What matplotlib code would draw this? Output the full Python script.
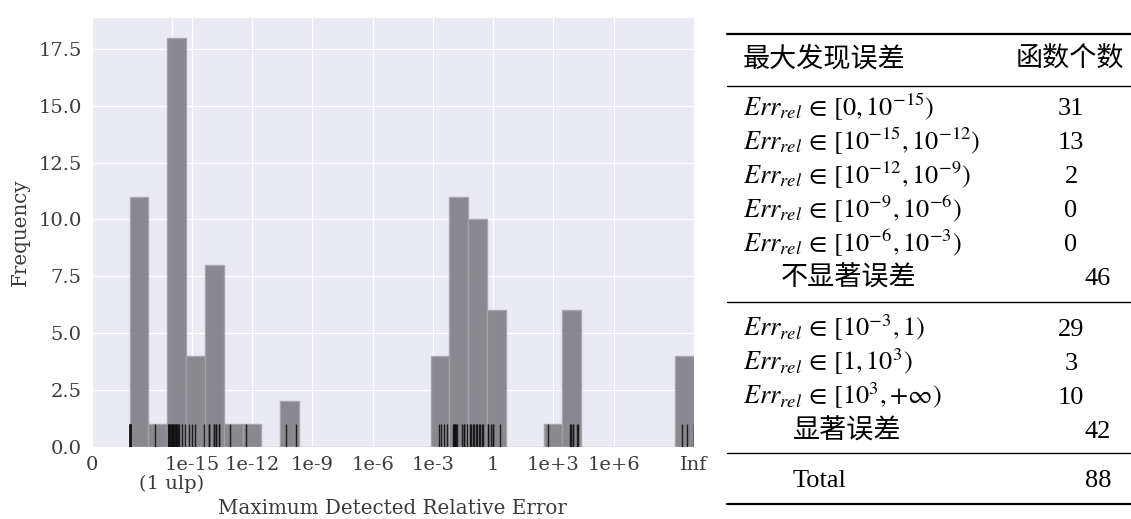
import numpy as np
import matplotlib
matplotlib.use("Agg")
import matplotlib.pyplot as plt
import seaborn as sns
from matplotlib.lines import Line2D

# ---------------- data ----------------
# log10 of the maximum detected relative error per function
# (0 error shown at -20 on the axis, Inf shown at 10)
log_err_insignificant = [
    -18.1, -18.1, -18.1, -18.1, -18.1, -18.1, -18.1, -18.1, -18.1, -18.1, -18.1,
    -16.82,
    -16.18, -16.15, -16.12, -16.08, -16.05, -16.0, -15.98, -15.95, -15.92,
    -15.88, -15.85, -15.8, -15.78, -15.74, -15.7, -15.65, -15.5, -15.33,
    -15.16, -15.0, -14.86, -14.42,
    -14.17, -14.17, -13.92, -13.92, -13.78, -13.78, -13.67, -13.67,
    -13.12, -12.29, -10.33, -9.84,
]
log_err_significant = [
    -2.71, -2.59, -2.45, -2.32,
    -2.0, -1.97, -1.94, -1.91, -1.88, -1.85, -1.82, -1.57, -1.44, -1.44, -1.3,
    -1.16, -1.08, -1.0, -0.93, -0.86, -0.79, -0.72, -0.65, -0.58, -0.5,
    -0.25, -0.25, -0.1, -0.03, 0.0, 0.33,
    2.71,
    3.82, 3.9, 3.99, 3.99, 4.16, 4.24,
    9.4, 9.65, 10.0, 10.0,
]
n_bins = 30

tick_pos = [-20, -16, -15, -12, -9, -6, -3, 0, 3, 6, 10]
tick_labels = ["0", "", "1e-15", "1e-12", "1e-9", "1e-6", "1e-3",
               "1", "1e+3", "1e+6", "Inf"]
ulp_pos = -16
ulp_label = "(1 ulp)"

table_header = ["最大发现误差", "函数个数"]
group1_labels = [r"$Err_{rel} \,\in\, [0, 10^{-15})$",
                 r"$Err_{rel} \,\in\, [10^{-15}, 10^{-12})$",
                 r"$Err_{rel} \,\in\, [10^{-12}, 10^{-9})$",
                 r"$Err_{rel} \,\in\, [10^{-9}, 10^{-6})$",
                 r"$Err_{rel} \,\in\, [10^{-6}, 10^{-3})$"]
group1_counts = [31, 13, 2, 0, 0]
group1_total_label = "不显著误差"
group1_total = 46
group2_labels = [r"$Err_{rel} \,\in\, [10^{-3}, 1)$",
                 r"$Err_{rel} \,\in\, [1, 10^{3})$",
                 r"$Err_{rel} \,\in\, [10^{3}, {+}\infty)$"]
group2_counts = [29, 3, 10]
group2_total_label = "显著误差"
group2_total = 42
grand_total_label = "Total"
grand_total = 88

# ---------------- style ----------------
sns.set_style("darkgrid")
plt.rcParams["font.family"] = ["DejaVu Serif"]
plt.rcParams["mathtext.fontset"] = "stix"

W, H = 1131, 519
fig = plt.figure(figsize=(W / 100, H / 100), dpi=100)
ax = fig.add_axes([91.5 / W, 72.4 / H, (694 - 91.5) / W, (446.6 - 17.3) / H])

values = np.array(log_err_insignificant + log_err_significant)
ax.hist(values, bins=n_bins, color="#7d7d83", alpha=0.9,
        edgecolor="#a3a3a8", linewidth=1.0, zorder=2)
sns.rugplot(x=values, ax=ax, height=0.053, color="#111111", lw=1.0,
            alpha=0.9, expand_margins=False, zorder=3)

tick_col = "#3b3b3b"
ax.set_xlim(-20, 10)
ax.set_ylim(0, 18.9)
ax.set_yticks(np.arange(0, 17.6, 2.5))
ax.set_yticklabels([f"{v:.1f}" for v in np.arange(0, 17.6, 2.5)])
ax.set_xticks(tick_pos)
ax.set_xticklabels(tick_labels)
ax.tick_params(axis="both", labelsize=14, colors=tick_col, length=0)
ax.tick_params(axis="x", pad=6.5)
ax.tick_params(axis="y", pad=7)
ax.annotate(ulp_label, xy=(ulp_pos, 0), xycoords=("data", "axes fraction"),
            xytext=(0, -26.5), textcoords="offset points",
            ha="center", va="center", fontsize=14, color=tick_col)
ax.set_xlabel("Maximum Detected Relative Error", fontsize=14.3,
              color=tick_col, labelpad=18)
ax.set_ylabel("Frequency", fontsize=14.3, color=tick_col, labelpad=6)

# ---------------- table ----------------
def fy(px):
    return 1 - px / H

def fx(px):
    return px / W

latin = dict(family=["Liberation Serif"], fontsize=19, color="black")
cjk = dict(family=["Noto Sans CJK SC", "DejaVu Sans"], fontsize=19.5, color="black")
x_left = 743
x_num = 1071
x_sum = 1098

def rule(px, lw):
    fig.add_artist(Line2D([fx(727), 1.0], [fy(px), fy(px)],
                          transform=fig.transFigure, color="black", lw=lw))

rule(34, 1.6)
fig.text(fx(x_left), fy(67), table_header[0], ha="left", va="baseline", **cjk)
fig.text(fx(1070), fy(67), table_header[1], ha="center", va="baseline", **cjk)
rule(86, 1.0)

pitch = 34
base = 115
for i, (lab, c) in enumerate(zip(group1_labels, group1_counts)):
    y = base + i * pitch
    fig.text(fx(x_left), fy(y), lab, ha="left", va="baseline", **latin)
    fig.text(fx(x_num), fy(y), str(c), ha="center", va="baseline", **latin)
y = base + len(group1_labels) * pitch
fig.text(fx(781), fy(y + 1), group1_total_label, ha="left", va="baseline", **cjk)
fig.text(fx(x_sum), fy(y), str(group1_total), ha="center", va="baseline", **latin)
rule(302, 1.0)

base2 = 336
for i, (lab, c) in enumerate(zip(group2_labels, group2_counts)):
    y = base2 + i * pitch
    fig.text(fx(x_left), fy(y), lab, ha="left", va="baseline", **latin)
    fig.text(fx(x_num), fy(y), str(c), ha="center", va="baseline", **latin)
y = base2 + len(group2_labels) * pitch
fig.text(fx(793), fy(y + 1), group2_total_label, ha="left", va="baseline", **cjk)
fig.text(fx(x_sum), fy(y), str(group2_total), ha="center", va="baseline", **latin)
rule(453, 1.0)

fig.text(fx(793), fy(487), grand_total_label, ha="left", va="baseline", **latin)
fig.text(fx(x_sum), fy(487), str(grand_total), ha="center", va="baseline", **latin)
rule(504, 1.6)

fig.savefig("out.png", dpi=100)
